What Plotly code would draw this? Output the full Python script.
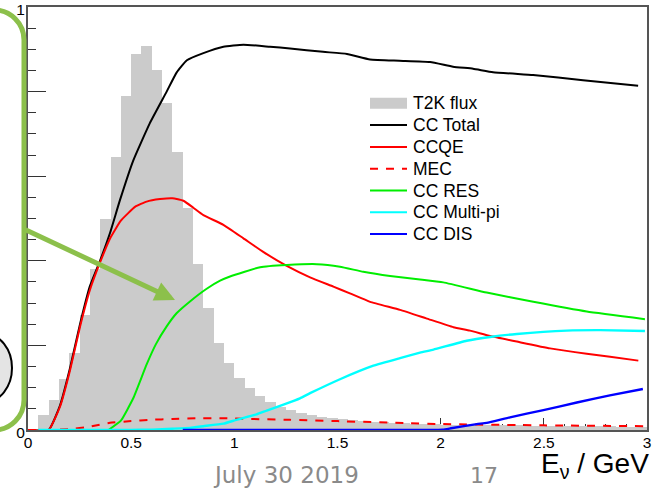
import plotly.graph_objects as go

# ---------------- data ----------------
bin_width = 0.05
flux_values = [0.0, 0.036, 0.07, 0.12, 0.183, 0.272, 0.38, 0.50, 0.646, 0.79,
               0.89, 0.908, 0.851, 0.772, 0.658, 0.526, 0.392, 0.288, 0.206, 0.159,
               0.122, 0.099, 0.080, 0.067, 0.055, 0.047, 0.041, 0.035, 0.031, 0.028,
               0.025, 0.024, 0.021, 0.020, 0.018, 0.017, 0.016, 0.015, 0.014, 0.014,
               0.013, 0.013, 0.012, 0.012, 0.012, 0.011, 0.011, 0.011, 0.010, 0.010,
               0.010, 0.010, 0.009, 0.009, 0.009, 0.009, 0.009, 0.008, 0.008, 0.008]
flux_centers = [bin_width * (i + 0.5) for i in range(len(flux_values))]

tot_E = [0.0, 0.10, 0.155, 0.204, 0.252, 0.30, 0.349, 0.397, 0.446, 0.51, 0.59, 0.672, 0.72,
         0.77, 0.85, 0.947, 1.044, 1.173, 1.27, 1.43, 1.546, 1.658, 1.80, 1.949, 2.06,
         2.157, 2.254, 2.448, 2.69, 2.957]
tot_v = [0.0, 0.0, 0.058, 0.147, 0.25, 0.34, 0.40, 0.465, 0.544, 0.637, 0.725, 0.80, 0.845,
         0.874, 0.891, 0.906, 0.911, 0.906, 0.902, 0.894, 0.889, 0.876, 0.873, 0.870, 0.859,
         0.854, 0.846, 0.839, 0.827, 0.814]

qe_E = [0.0, 0.10, 0.155, 0.204, 0.252, 0.30, 0.349, 0.40, 0.45, 0.52, 0.575, 0.64, 0.70,
        0.753, 0.80, 0.85, 0.947, 1.044, 1.14, 1.254, 1.367, 1.48, 1.56, 1.658, 1.803,
        1.93, 2.062, 2.142, 2.24, 2.369, 2.53, 2.708, 2.821, 2.958]
qe_v = [0.0, 0.0, 0.055, 0.142, 0.244, 0.331, 0.396, 0.455, 0.495, 0.528, 0.54, 0.546, 0.548,
        0.542, 0.526, 0.508, 0.485, 0.453, 0.421, 0.388, 0.361, 0.339, 0.323, 0.303, 0.284,
        0.264, 0.243, 0.235, 0.222, 0.209, 0.193, 0.18, 0.173, 0.164]

mec_E = [0.0, 0.1, 0.2, 0.3, 0.397, 0.5, 0.59, 0.7, 0.834, 0.93, 1.0, 1.27, 1.5, 1.85,
         2.0, 2.5, 2.99]
mec_v = [0.0, 0.0, 0.002, 0.008, 0.017, 0.021, 0.024, 0.026, 0.028, 0.028, 0.027, 0.024,
         0.021, 0.016, 0.014, 0.011, 0.009]

res_E = [0.39, 0.45, 0.51, 0.575, 0.62, 0.672, 0.72, 0.785, 0.866, 0.931, 0.979, 1.125,
         1.254, 1.4, 1.512, 1.625, 1.755, 1.9, 2.013, 2.223, 2.449, 2.708, 2.99]
res_v = [0.0, 0.022, 0.075, 0.155, 0.203, 0.245, 0.276, 0.304, 0.334, 0.353, 0.363, 0.385,
         0.39, 0.392, 0.386, 0.374, 0.364, 0.356, 0.349, 0.325, 0.303, 0.28, 0.262]

mpi_E = [0.05, 0.5, 0.6, 0.7, 0.785, 0.85, 0.947, 1.01, 1.108, 1.157, 1.238, 1.318, 1.367,
         1.512, 1.674, 1.803, 1.9, 1.965, 2.126, 2.24, 2.369, 2.611, 2.773, 2.99]
mpi_v = [0.0, 0.0, 0.001, 0.003, 0.005, 0.009, 0.015, 0.024, 0.037, 0.046, 0.06, 0.075,
         0.087, 0.12, 0.152, 0.17, 0.183, 0.19, 0.211, 0.22, 0.227, 0.235, 0.236, 0.234]

dis_E = [0.75, 1.5, 1.9, 2.01, 2.05, 2.175, 2.223, 2.336, 2.498, 2.66, 2.82, 2.98]
dis_v = [0.0, 0.0, 0.0, 0.001, 0.004, 0.014, 0.017, 0.03, 0.047, 0.065, 0.082, 0.097]

legend_names = ["T2K flux", "CC Total", "CCQE", "MEC", "CC RES", "CC Multi-pi", "CC DIS"]
x_tick_vals = [0, 0.5, 1, 1.5, 2, 2.5, 3]
x_tick_text = ["0", "0.5", "1", "1.5", "2", "2.5", "3"]
y_tick_vals = [0, 0.2, 0.4, 0.6, 0.8, 1.0]
y_tick_text = ["0", "", "", "", "", "1"]

# ---------------- styles / layout constants ----------------
W, H = 656, 489
ML, MR, MT, MB = 28, 9, 7, 59
PW, PH = W - ML - MR, H - MT - MB
FONT = "Liberation Sans, Arial, Helvetica, sans-serif"
GREEN_DECOR = "#8cc04b"
FLUX_COLOR = "#cbcbcb"
line_styles = {
    "CC Total": dict(color="black", width=2),
    "CCQE": dict(color="#ff0000", width=2),
    "MEC": dict(color="#ff0000", width=2, dash="8px,8px"),
    "CC RES": dict(color="#00ee00", width=2),
    "CC Multi-pi": dict(color="#00ffff", width=2.4),
    "CC DIS": dict(color="#0000ff", width=2.4),
}


def px(xp):
    return (xp - ML) / PW


def py(yp):
    return (H - MB - yp) / PH


fig = go.Figure()
fig.add_trace(go.Bar(x=flux_centers, y=flux_values, width=bin_width,
                     marker=dict(color=FLUX_COLOR, line=dict(width=0)),
                     name="T2K flux", showlegend=False))

series = [("CC Total", tot_E, tot_v), ("CCQE", qe_E, qe_v), ("MEC", mec_E, mec_v),
          ("CC RES", res_E, res_v), ("CC Multi-pi", mpi_E, mpi_v), ("CC DIS", dis_E, dis_v)]
for name, xs, ys in series:
    fig.add_trace(go.Scatter(x=xs, y=ys, mode="lines", name=name,
                             line=dict(shape="spline", smoothing=0.4, **line_styles[name]),
                             showlegend=False))

# ---------------- manual ROOT-like legend ----------------
shapes = []
annotations = []
row0, row_step = 103.3, 21.8
sw_x0, sw_x1, txt_x = 370, 407, 411
for i, name in enumerate(legend_names):
    yc = row0 + i * row_step
    if name == "T2K flux":
        shapes.append(dict(type="rect", xref="paper", yref="paper",
                           x0=px(sw_x0), x1=px(sw_x1), y0=py(yc + 5.5), y1=py(yc - 5.5),
                           fillcolor=FLUX_COLOR, line=dict(width=0)))
    else:
        st = line_styles[name]
        shapes.append(dict(type="line", xref="paper", yref="paper",
                           x0=px(sw_x0), x1=px(sw_x1), y0=py(yc), y1=py(yc),
                           line=dict(color=st["color"], width=2,
                                     dash=st.get("dash", "solid"))))
    annotations.append(dict(text=name, xref="paper", yref="paper", x=px(txt_x), y=py(yc),
                            xanchor="left", yanchor="middle", showarrow=False,
                            font=dict(family=FONT, size=17.5, color="black")))

# ---------------- slide decorations ----------------
r = 30
k = 0.552 * r
cx, top_y, bot_y, xline = -6, 10, 430, 24
path_pts = [
    ("M", [(cx, top_y)]),
    ("C", [(cx + k, top_y), (xline, top_y + r - k), (xline, top_y + r)]),
    ("L", [(xline, bot_y - r)]),
    ("C", [(xline, bot_y - r + k), (cx + k, bot_y), (cx, bot_y)]),
]
path = ""
for cmd, pts in path_pts:
    path += cmd + " ".join(f"{px(a):.5f},{py(b):.5f}" for a, b in pts) + " "
shapes.append(dict(type="path", xref="paper", yref="paper", path=path.strip(),
                   line=dict(color=GREEN_DECOR, width=5)))
shapes.append(dict(type="circle", xref="paper", yref="paper",
                   x0=px(-42), x1=px(12), y0=py(402), y1=py(334),
                   fillcolor="#e4e4e4", line=dict(color="black", width=2)))

annotations.append(dict(text="", xref="paper", yref="paper", x=px(175), y=py(300),
                        ax=24 - 175, ay=229 - 300, axref="pixel", ayref="pixel",
                        showarrow=True, arrowhead=2, arrowsize=0.8, arrowwidth=5,
                        arrowcolor=GREEN_DECOR, standoff=0))
annotations.append(dict(text="July 30 2019", xref="paper", yref="paper",
                        x=px(211), y=py(475), xanchor="left", yanchor="middle",
                        showarrow=False,
                        font=dict(family="DejaVu Sans", size=23, color="#8a8a8a")))
annotations.append(dict(text="17", xref="paper", yref="paper",
                        x=px(468), y=py(475), xanchor="left", yanchor="middle",
                        showarrow=False,
                        font=dict(family="DejaVu Sans", size=22, color="#8a8a8a")))
annotations.append(dict(text="E<sub>ν</sub> / GeV", xref="paper", yref="paper",
                        x=px(651), y=py(465), xanchor="right", yanchor="middle",
                        showarrow=False,
                        font=dict(family=FONT, size=28, color="black")))

axis_common = dict(showline=True, linecolor="#555555", linewidth=2, mirror=True,
                   showgrid=False, zeroline=False, ticks="inside", tickwidth=1,
                   tickcolor="#333333", layer="below traces", automargin=False,
                   ticklabeloverflow="allow",
                   tickfont=dict(family=FONT, size=15.5, color="black"))

fig.update_layout(
    width=W, height=H,
    margin=dict(l=ML, r=MR, t=MT, b=MB, pad=0, autoexpand=False),
    paper_bgcolor="white", plot_bgcolor="white",
    showlegend=False, bargap=0,
    xaxis=dict(range=[0, 3], tickvals=x_tick_vals, ticktext=x_tick_text, ticklen=12,
               ticklabelstandoff=-3,
               minor=dict(ticks="inside", ticklen=6, dtick=0.1, tick0=0,
                          tickcolor="#333333", tickwidth=1),
               **axis_common),
    yaxis=dict(range=[0, 1], tickvals=y_tick_vals, ticktext=y_tick_text, ticklen=18,
               ticklabelstandoff=-2, ticklabelshift=3,
               minor=dict(ticks="inside", ticklen=8, dtick=0.05, tick0=0,
                          tickcolor="#333333", tickwidth=1),
               **axis_common),
    shapes=shapes,
    annotations=annotations,
)

fig.write_html("out.html")
